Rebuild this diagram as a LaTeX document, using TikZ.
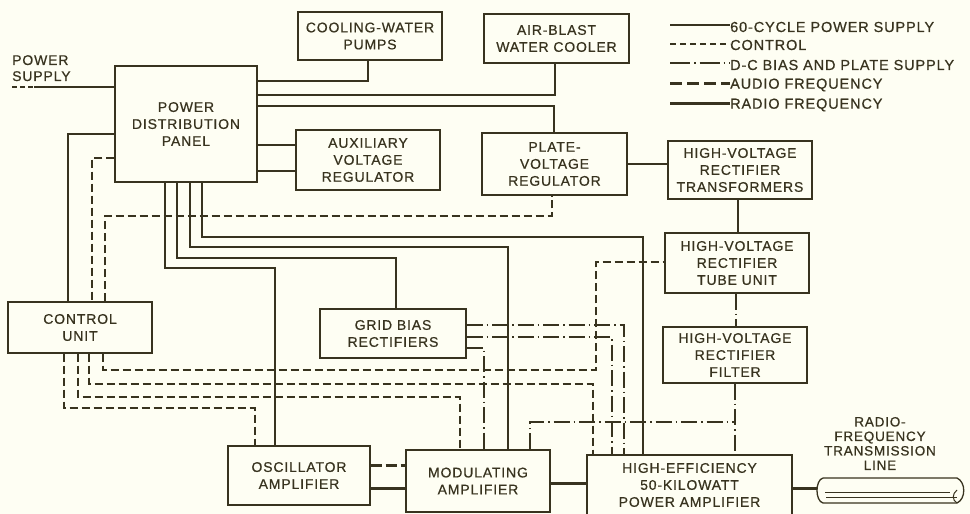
\documentclass[tikz,border=0pt]{standalone}
\usepackage{fontspec}
\setmainfont{Liberation Sans}[LetterSpace=6.0,FakeBold=0.6]
\definecolor{ink}{HTML}{38331F}
\definecolor{paper}{HTML}{FEFEF3}
\begin{document}
\begin{tikzpicture}[x=1pt,y=-1pt,
  every node/.style={text=ink},
  box/.style={draw=ink, line width=1.2pt, inner sep=0pt, align=center, font=\fontsize{14}{17}\selectfont},
  pw/.style={draw=ink, line width=1.2pt},
  ctl/.style={draw=ink, line width=1.4pt, dash pattern=on 8pt off 4pt},
  dcs/.style={draw=ink, line width=1.3pt, dash pattern=on 16pt off 4pt on 1.5pt off 4pt},
  af/.style={draw=ink, line width=3pt, dash pattern=on 11pt off 4pt},
  rf/.style={draw=ink, line width=3pt},
  lbl/.style={font=\fontsize{14}{16}\selectfont, inner sep=0pt},
  lgd/.style={font=\fontsize{14.5}{16}\selectfont, inner sep=0pt, anchor=west}
]
\fill[paper] (0,0) rectangle (970,514);
\useasboundingbox (0,0) rectangle (970,514);

% boxes
\node[box, minimum width=142pt, minimum height=116pt] (pdp) at (186,124) {POWER\\DISTRIBUTION\\PANEL};
\node[box, minimum width=144pt, minimum height=48pt] (cool) at (370,36) {COOLING-WATER\\PUMPS};
\node[box, minimum width=145pt, minimum height=49pt] (air) at (556.5,38.5) {AIR-BLAST\\WATER COOLER};
\node[box, minimum width=144pt, minimum height=60pt] (avr) at (368,160) {AUXILIARY\\VOLTAGE\\REGULATOR};
\node[box, minimum width=145pt, minimum height=62pt] (pvr) at (554.5,164) {PLATE-\\VOLTAGE\\REGULATOR};
\node[box, minimum width=144pt, minimum height=58pt] (hvt) at (740,170) {HIGH-VOLTAGE\\RECTIFIER\\TRANSFORMERS};
\node[box, minimum width=144pt, minimum height=60pt] (tube) at (737,263) {HIGH-VOLTAGE\\RECTIFIER\\TUBE UNIT};
\node[box, minimum width=144pt, minimum height=56pt] (filt) at (735,355) {HIGH-VOLTAGE\\RECTIFIER\\FILTER};
\node[box, minimum width=144pt, minimum height=51pt] (ctrl) at (80,327.5) {CONTROL\\UNIT};
\node[box, minimum width=146pt, minimum height=49pt] (gbr) at (393,333.5) {GRID BIAS\\RECTIFIERS};
\node[box, minimum width=142pt, minimum height=59pt] (osc) at (299,475.5) {OSCILLATOR\\AMPLIFIER};
\node[box, minimum width=144pt, minimum height=62pt] (ma) at (478,481) {MODULATING\\AMPLIFIER};
\node[box, minimum width=205pt, minimum height=60pt] (pa) at (689.5,485) {HIGH-EFFICIENCY\\50-KILOWATT\\POWER AMPLIFIER};

% labels
\node[lbl, anchor=north west, align=left] (pslbl) at (12,55) {POWER\\SUPPLY};
\node[lbl, align=center, font=\fontsize{13.5}{14.5}\selectfont] (tllbl) at (880,443.5) {RADIO-\\FREQUENCY\\TRANSMISSION\\LINE};

% power supply input
\coordinate (ps) at (12,87);
\coordinate (psj) at (34,87);
\draw[ctl, line width=1.6pt, dash pattern=on 5pt off 3pt] (ps) -- (psj);
\draw[pw] (psj) -- (pdp.west |- psj);

% from power distribution panel
\draw[pw] (pdp.east |- 0,81) -| (cool.south -| 368,0);
\draw[pw] (pdp.east |- 0,95) -| (air.south -| 555,0);
\draw[pw] (pdp.east |- 0,106) -| (pvr.north -| 554,0);
\draw[pw] (pdp.east |- 0,145) -- (avr.west |- 0,145);
\draw[pw] (pdp.east |- 0,171) -- (avr.west |- 0,171);
\draw[pw] (pdp.west |- 0,134) -| (ctrl.north -| 68,0);
\draw[ctl] (pdp.west |- 0,158) -| (ctrl.north -| 92,0);
\draw[ctl] (ctrl.north -| 105,0) |- (552,216) -- (pvr.south -| 552,0);

\draw[pw] (pdp.south -| 165,0) |- (275,268) -- (osc.north -| 275,0);
\draw[pw] (pdp.south -| 177,0) |- (396,258) -- (gbr.north -| 396,0);
\draw[pw] (pdp.south -| 190,0) |- (508,247) -- (ma.north -| 508,0);
\draw[pw] (pdp.south -| 202,0) |- (643,237) -- (pa.north -| 643,0);

% control unit outputs
\draw[ctl] (ctrl.south -| 103,0) |- (596,370) |- (tube.west |- 0,262);
\draw[ctl] (ctrl.south -| 89,0) |- (593,384) -- (pa.north -| 593,0);
\draw[ctl] (ctrl.south -| 78,0) |- (460,397) -- (ma.north -| 460,0);
\draw[ctl] (ctrl.south -| 64,0) |- (255,408) -- (osc.north -| 255,0);

% grid bias rectifier outputs
\draw[dcs] (gbr.east |- 0,325) -| (pa.north -| 624,0);
\draw[dcs] (gbr.east |- 0,337) -| (pa.north -| 612,0);
\draw[dcs] (gbr.east |- 0,348) -| (ma.north -| 484,0);

% high voltage chain
\draw[pw] (pvr.east |- 0,164) -- (hvt.west |- 0,164);
\draw[pw] (hvt.south -| 738,0) -- (tube.north -| 738,0);
\draw[dcs] (tube.south -| 736,0) -- (filt.north -| 736,0);
\draw[dcs] (filt.south) -- (pa.north -| filt.south);
\coordinate (hvj) at (735,422);
\draw[dcs] (ma.north -| 530,0) |- (hvj);

% signal path
\draw[af] (osc.east |- 0,465) -- (ma.west |- 0,465);
\draw[rf] (osc.east |- 0,488) -- (ma.west |- 0,488);
\draw[rf] (ma.east |- 0,483) -- (pa.west |- 0,483);
\coordinate (tl) at (817,488);
\draw[rf] (pa.east |- tl) -- (tl);

% transmission line
\draw[pw, line width=1.3pt] (823,478) -- (957,478) .. controls (966,482) and (966,499) .. (957,503) -- (823,503)
  .. controls (815,501) and (815,480) .. (823,478);
\draw[pw, line width=1pt] (825,492) -- (950,492);
\draw[pw, line width=1pt] (826,497) -- (957,497);
\draw[pw, line width=1pt] (957,490) .. controls (952,494) and (952,500) .. (957,503);

% legend
\node[lgd] (lg1) at (730,27) {60-CYCLE POWER SUPPLY};
\node[lgd] (lg2) at (730,45) {CONTROL};
\node[lgd] (lg3) at (730,65) {D-C BIAS AND PLATE SUPPLY};
\node[lgd] (lg4) at (730,85) {AUDIO FREQUENCY};
\node[lgd] (lg5) at (730,105) {RADIO FREQUENCY};
\draw[pw] (670,25) -- (lg1.west |- 0,25);
\draw[ctl, dash pattern=on 6pt off 4pt] (670,44) -- (lg2.west |- 0,44);
\draw[dcs, dash pattern=on 20pt off 4pt on 1.5pt off 4pt] (670,63) -- (lg3.west |- 0,63);
\draw[af, dash pattern=on 12pt off 5pt] (670,83) -- (lg4.west |- 0,83);
\draw[rf] (670,103) -- (lg5.west |- 0,103);
\end{tikzpicture}
\end{document}
